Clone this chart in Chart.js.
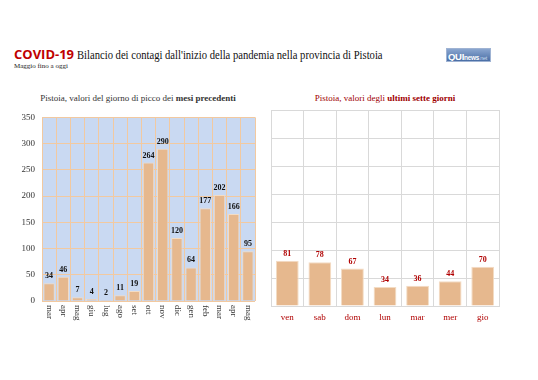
<!DOCTYPE html>
<html><head><meta charset="utf-8">
<script src="https://cdn.jsdelivr.net/npm/chart.js@4"></script>
<style>
html,body{margin:0;padding:0;background:#fff;width:538px;height:380px;overflow:hidden;position:relative;font-family:"Liberation Serif","Times New Roman","DejaVu Serif","Noto Serif",serif;}
.abs{position:absolute;white-space:nowrap;}
#t1{left:14px;top:45px;font-size:13.5px;color:#111;}
#t1 .s{display:inline-block;transform-origin:0 50%;}
#t1 b{font-family:"Open Sans","Liberation Sans",sans-serif;color:#c00000;font-weight:700;font-size:13px;}
#t2{left:14px;top:62px;font-size:7px;color:#222;}
#logo{left:446px;top:48px;width:45px;height:14px;overflow:hidden;background:linear-gradient(#8aa6d0,#4a6ea6);border:1px solid #9fb3d3;font-family:"Liberation Sans",sans-serif;color:#fff;line-height:12px;box-sizing:border-box;padding-left:1px;letter-spacing:-0.3px;}
#logo .q{font-weight:700;font-size:9.5px;}
#logo .n{font-weight:700;font-size:6.5px;}
#logo .d{font-size:5.5px;color:#cde;}
#lt{left:0;width:276px;text-align:center;top:93px;font-size:9px;color:#333;}
#rt{left:271px;width:228px;text-align:center;top:93px;font-size:9px;color:#a00000;}
canvas{position:absolute;}
</style></head><body>
<div id="t1" class="abs"><b>COVID-19</b> <span class="s" id="t1s">Bilancio dei contagi dall'inizio della pandemia nella provincia di Pistoia</span></div>
<div id="t2" class="abs">Maggio fino a oggi</div>
<div id="logo" class="abs"><span class="q">QUI</span><span class="n">news</span><span class="d">.net</span></div>
<div id="lt" class="abs">Pistoia, valori del giorno di picco dei <b>mesi precedenti</b></div>
<div id="rt" class="abs">Pistoia, valori degli <b>ultimi sette giorni</b></div>
<canvas id="c1" width="262" height="240" style="left:0;top:105px;width:262px;height:240px"></canvas>
<canvas id="c2" width="276" height="240" style="left:262px;top:105px;width:276px;height:240px"></canvas>
<script>
const monthLabels = ["mar","apr","mag","giu","lug","ago","set","ott","nov","dic","gen","feb","mar","apr","mag"];
const monthPeaks = [34,46,7,4,2,11,19,264,290,120,64,177,202,166,95];
const dayLabels = ["ven","sab","dom","lun","mar","mer","gio"];
const dayValues = [81,78,67,34,36,44,70];
const yTicks = [0,50,100,150,200,250,300,350];

const SERIF = "'Liberation Serif', 'Times New Roman', 'DejaVu Serif', 'Noto Serif', serif";

// fit title text into its reference width
(function(){
  const s = document.getElementById('t1s');
  const w = s.getBoundingClientRect().width;
  const target = 383 - s.getBoundingClientRect().left;
  if (w > target) s.style.transform = 'scaleX(' + (target / w) + ')';
})();

function valueLabels(color){
  return {
    id:'vl',
    afterDatasetsDraw(chart){
      const ctx = chart.ctx;
      const meta = chart.getDatasetMeta(0);
      ctx.save();
      ctx.font = "bold 8px " + SERIF;
      ctx.fillStyle = color;
      ctx.textAlign = 'center';
      ctx.textBaseline = 'bottom';
      meta.data.forEach((bar,i)=>{
        ctx.fillText(String(chart.data.datasets[0].data[i]), bar.x, bar.y - 3);
      });
      ctx.restore();
    }
  };
}

const bgPlugin = {
  id:'bg',
  beforeDraw(chart){
    const a = chart.chartArea, ctx = chart.ctx;
    ctx.save();
    ctx.fillStyle = '#c9d9f2';
    ctx.fillRect(a.left, a.top, a.right-a.left, a.bottom-a.top);
    ctx.restore();
  }
};

const rotLabels = {
  id:'rot',
  afterDraw(chart){
    const s = chart.scales.x, ctx = chart.ctx;
    ctx.save();
    ctx.font = "9px " + SERIF;
    ctx.fillStyle = '#333';
    ctx.textAlign = 'left';
    ctx.textBaseline = 'middle';
    s.ticks.forEach((t,i)=>{
      const x = s.getPixelForTick(i);
      ctx.save();
      ctx.translate(x, s.top + 4);
      ctx.rotate(Math.PI/2);
      ctx.fillText(chart.data.labels[i], 0, 0);
      ctx.restore();
    });
    ctx.restore();
  }
};

new Chart(document.getElementById('c1'), {
  type:'bar',
  data:{labels:monthLabels, datasets:[{data:monthPeaks, backgroundColor:'#e6b88e', borderColor:'#f3dcc4', borderWidth:1, barPercentage:0.8, categoryPercentage:1}]},
  options:{
    responsive:false, animation:false,
    layout:{padding:{top:7,right:7,left:0,bottom:0}},
    plugins:{legend:{display:false}, tooltip:{enabled:false}},
    scales:{
      x:{
        grid:{color:'#f2c9a0', offset:true, drawTicks:false},
        border:{display:false},
        ticks:{color:'rgba(0,0,0,0)', font:{size:9,family:SERIF}, maxRotation:90, minRotation:90},
        afterFit(s){ s.height = 44; }
      },
      y:{
        min:0, max:350,
        afterBuildTicks(s){ s.ticks = yTicks.map(v=>({value:v})); },
        grid:{color:'#f2c9a0', drawTicks:false},
        border:{display:false},
        ticks:{color:'#333', font:{size:9,family:SERIF}, padding:7},
        afterFit(s){ s.width = 42; }
      }
    }
  },
  plugins:[bgPlugin, valueLabels('#111'), rotLabels]
});

new Chart(document.getElementById('c2'), {
  type:'bar',
  data:{labels:dayLabels, datasets:[{data:dayValues, backgroundColor:'#e6b88e', borderColor:'#f3dcc4', borderWidth:1, barPercentage:0.7, categoryPercentage:1}]},
  options:{
    responsive:false, animation:false,
    layout:{padding:{top:5,right:39,left:0,bottom:0}},
    plugins:{legend:{display:false}, tooltip:{enabled:false}},
    scales:{
      x:{
        grid:{color:'#d9d9d9', offset:true, drawTicks:false},
        border:{color:'#d9d9d9'},
        ticks:{color:'#b00000', font:{size:9,family:SERIF}, padding:6, maxRotation:0},
        afterFit(s){ s.height = 39; }
      },
      y:{
        min:0, max:350,
        afterBuildTicks(s){ s.ticks = yTicks.map(v=>({value:v})); },
        grid:{color:'#d9d9d9', drawTicks:false},
        border:{color:'#d9d9d9'},
        ticks:{display:false},
        afterFit(s){ s.width = 9; }
      }
    }
  },
  plugins:[valueLabels('#b00000')]
});
</script>
</body></html>
